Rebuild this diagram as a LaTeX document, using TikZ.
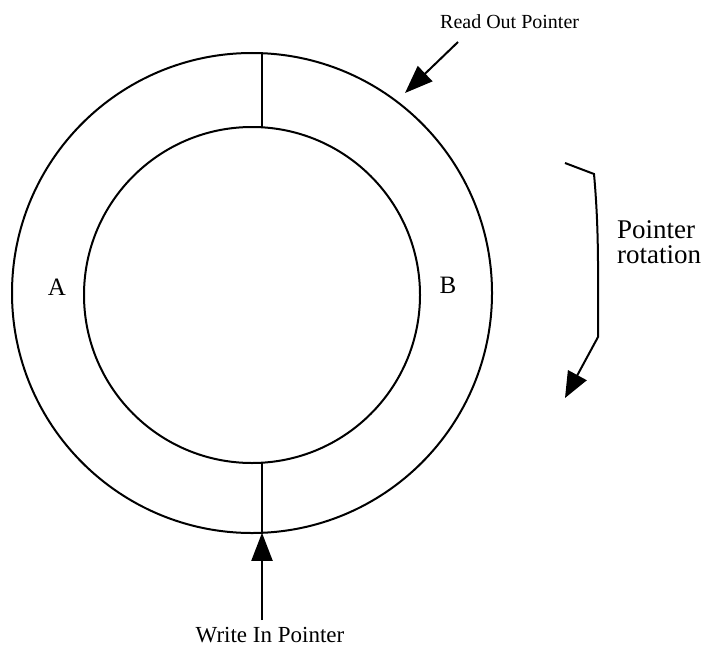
\documentclass[tikz,border=0pt]{standalone}
\usepackage{fontspec}
\setmainfont{Liberation Serif}
\usetikzlibrary{arrows.meta}

\begin{document}
\begin{tikzpicture}[x=1pt,y=-1pt,
  ring/.style    = {draw, circle, line width=2pt, inner sep=0pt},
  divider/.style = {line width=2pt},
  pointer/.style = {line width=2pt, -{Triangle[length=28pt,width=21pt]}},
  turn/.style    = {line width=2pt, -{Triangle[length=26pt,width=21pt]}},
  lbl/.style     = {font=\fontsize{20}{22}\selectfont, inner sep=0pt},
  half/.style    = {font=\fontsize{25}{28}\selectfont, inner sep=0pt},
]
  \useasboundingbox (0,0) rectangle (708,650);

  \node[ring, minimum size=480pt] (outer) at (252,293) {};
  \node[ring, minimum size=336pt] (inner) at (252,295) {};

  % the two boundaries between halves A and B
  \coordinate (top_o) at (262,53.2);
  \coordinate (top_i) at (262,127.3);
  \coordinate (bot_i) at (262,462.7);
  \coordinate (bot_o) at (262,532.8);
  \draw[divider] (top_o) -- (top_i);
  \draw[divider] (bot_i) -- (bot_o);

  \node[half] (a) at (57,287) {A};
  \node[half] (b) at (448,285) {B};

  % read pointer
  \node[lbl, anchor=base west] (read) at (440,29) {Read Out Pointer};
  \coordinate (read_s) at (458,42);
  \coordinate (read_e) at (405,93);
  \draw[pointer] (read_s) -- (read_e);

  % write pointer
  \node[lbl, anchor=base, font=\fontsize{23}{25}\selectfont] (write) at (270,642) {Write In Pointer};
  \coordinate (write_s) at (262,620);
  \draw[pointer] (write_s) -- (bot_o);

  % direction of rotation
  \coordinate (rot_a) at (565,163);
  \coordinate (rot_b) at (594,174);
  \coordinate (rot_c) at (598,337);
  \coordinate (rot_d) at (565,398);
  \draw[turn] (rot_a) -- (rot_b) .. controls (599,230) and (598,270) .. (rot_c) -- (rot_d);
  \node[half, anchor=base west, align=left, font=\fontsize{27}{25}\selectfont] (rot) at (617,263) {Pointer\\rotation};
\end{tikzpicture}
\end{document}
